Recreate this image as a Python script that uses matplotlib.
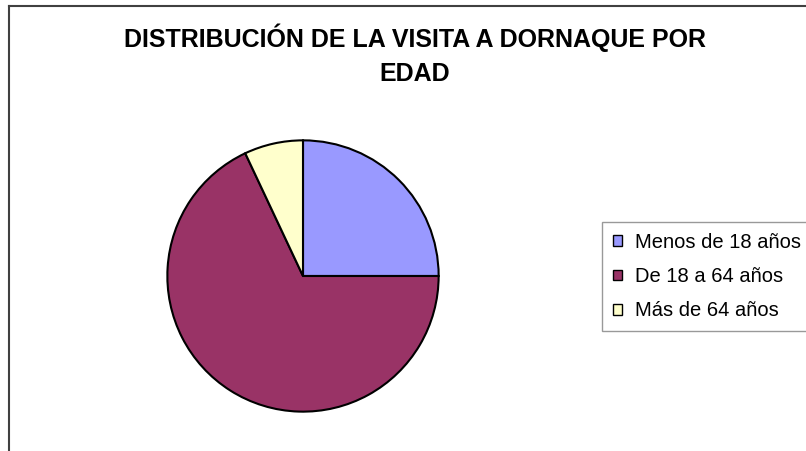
import matplotlib.pyplot as plt
from matplotlib.patches import Patch
from matplotlib.lines import Line2D

plt.rcParams['font.family'] = ['Liberation Sans', 'DejaVu Sans']

# Datos del gráfico
categorias = ['Menos de 18 años', 'De 18 a 64 años', 'Más de 64 años']
porcentajes = [25, 68, 7]
colores = ['#9999FF', '#993366', '#FFFFCC']

W, H = 806, 451
fig = plt.figure(figsize=(W / 100, H / 100), dpi=100)

# Marco del gráfico (solo se ven los bordes superior e izquierdo)
fig.add_artist(Line2D([9 / W, 9 / W], [0, 1 - 6 / H], transform=fig.transFigure,
                      color='#404040', lw=1.5))
fig.add_artist(Line2D([9 / W, 1], [1 - 6 / H, 1 - 6 / H], transform=fig.transFigure,
                      color='#404040', lw=1.5))

# Título
fig.text(415 / W, 1 - 55 / H, 'DISTRIBUCIÓN DE LA VISITA A DORNAQUE POR\nEDAD',
         ha='center', va='center', fontsize=18, fontweight='bold', linespacing=1.5)

# Tarta
ax = fig.add_axes([166 / W, (H - 413) / H, 274 / W, 274 / H])
ax.pie(porcentajes, colors=colores, startangle=90, counterclock=False,
       radius=1, wedgeprops=dict(edgecolor='black', linewidth=1.5))
ax.set_xlim(-1.01, 1.01)
ax.set_ylim(-1.01, 1.01)
ax.set_aspect('equal')

# Leyenda
handles = [Patch(facecolor=c, edgecolor='black', linewidth=1) for c in colores]
leg = fig.legend(handles, categorias, loc='upper left',
                 bbox_to_anchor=(602 / W, 1 - 222 / H), fontsize=14.5,
                 frameon=True, fancybox=False, edgecolor='#808080',
                 handlelength=0.45, handleheight=0.45, handletextpad=0.65,
                 labelspacing=0.75, borderpad=0.55, borderaxespad=0)
leg.get_frame().set_linewidth(1)

fig.savefig('out.png', dpi=100)
